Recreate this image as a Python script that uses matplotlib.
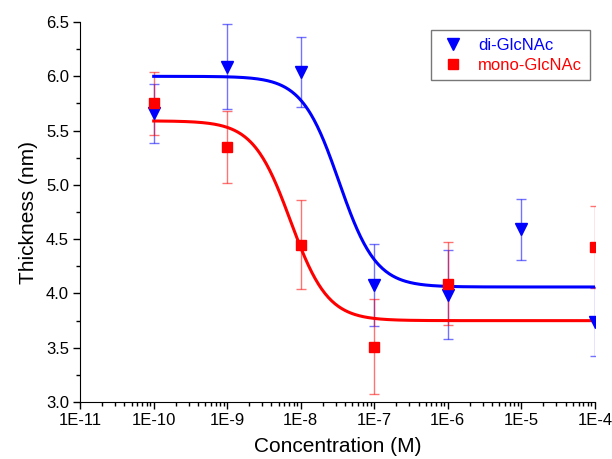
import numpy as np
import matplotlib

matplotlib.use("Agg")
import matplotlib.pyplot as plt
from matplotlib.ticker import FixedLocator, LogLocator, MultipleLocator, NullFormatter

plt.rcParams.update({
    "font.family": ["Liberation Sans", "DejaVu Sans"],
    "font.size": 12,
})

# concentrations (M)
conc = [1e-10, 1e-9, 1e-8, 1e-7, 1e-6, 1e-5, 1e-4]

# di-GlcNAc thickness (nm) and error
di_y = [5.66, 6.09, 6.04, 4.08, 3.99, 4.59, 3.74]
di_err = [0.27, 0.39, 0.32, 0.38, 0.41, 0.28, 0.32]

# mono-GlcNAc (no point visible at 1E-5)
mono_x = [1e-10, 1e-9, 1e-8, 1e-7, 1e-6, 1e-4]
mono_y = [5.75, 5.35, 4.45, 3.51, 4.09, 4.43]
mono_err = [0.29, 0.33, 0.41, 0.44, 0.38, 0.38]

# dose-response fit parameters: top, bottom, log10 EC50, hill slope
di_fit = (6.0, 4.06, -7.48, 1.72)
mono_fit = (5.59, 3.75, -8.14, 1.71)

BLUE = "#0000ff"
RED = "#ff0000"


def dose_response(logx, top, bottom, logx0, p):
    return bottom + (top - bottom) / (1 + 10 ** ((logx - logx0) * p))


fig = plt.figure(figsize=(6.12, 4.59), dpi=100)
ax = fig.add_axes([0.131, 0.124, 0.841, 0.828])

logx = np.linspace(-10, -4, 400)
ax.plot(10 ** logx, dose_response(logx, *di_fit), color=BLUE, lw=2.2, zorder=3)
ax.plot(10 ** logx, dose_response(logx, *mono_fit), color=RED, lw=2.2, zorder=3)

ax.errorbar(conc, di_y, yerr=di_err, fmt="none", ecolor=BLUE, alpha=0.55,
            elinewidth=1, capsize=3.5, capthick=1, zorder=2)
ax.errorbar(mono_x, mono_y, yerr=mono_err, fmt="none", ecolor=RED, alpha=0.55,
            elinewidth=1, capsize=3.5, capthick=1, zorder=2)
ax.plot(conc, di_y, "v", color=BLUE, ms=8, ls="none", zorder=4, label="di-GlcNAc")
ax.plot(mono_x, mono_y, "s", color=RED, ms=6.5, ls="none", zorder=4, label="mono-GlcNAc")

ax.set_xscale("log")
ax.set_xlim(1e-11, 1e-4)
ax.set_ylim(3.0, 6.5)
ax.xaxis.set_major_locator(FixedLocator([10.0 ** k for k in range(-11, -3)]))
ax.xaxis.set_minor_locator(LogLocator(base=10, subs=np.arange(2, 10), numticks=20))
ax.xaxis.set_minor_formatter(NullFormatter())
ax.set_xticklabels([f"1E{k}" for k in range(-11, -3)])
ax.yaxis.set_major_locator(MultipleLocator(0.5))
ax.yaxis.set_minor_locator(MultipleLocator(0.25))
ax.yaxis.set_major_formatter(matplotlib.ticker.FormatStrFormatter("%.1f"))

for s in ("top", "right"):
    ax.spines[s].set_visible(False)
ax.tick_params(which="major", direction="out", length=5, width=1, labelsize=12, pad=3)
ax.tick_params(which="minor", direction="out", length=3, width=1)

ax.set_xlabel("Concentration (M)", fontsize=15, labelpad=6)
ax.set_ylabel("Thickness (nm)", fontsize=15, labelpad=6)

leg = ax.legend(loc="upper right", bbox_to_anchor=(1.006, 1.0), fontsize=12,
                frameon=True, fancybox=False, edgecolor="#555555",
                handlelength=1.8, handletextpad=0.6, borderpad=0.45,
                labelspacing=0.3)
leg.get_frame().set_linewidth(1)
for t, c in zip(leg.get_texts(), (BLUE, RED)):
    t.set_color(c)

fig.savefig("out.png", dpi=100)
